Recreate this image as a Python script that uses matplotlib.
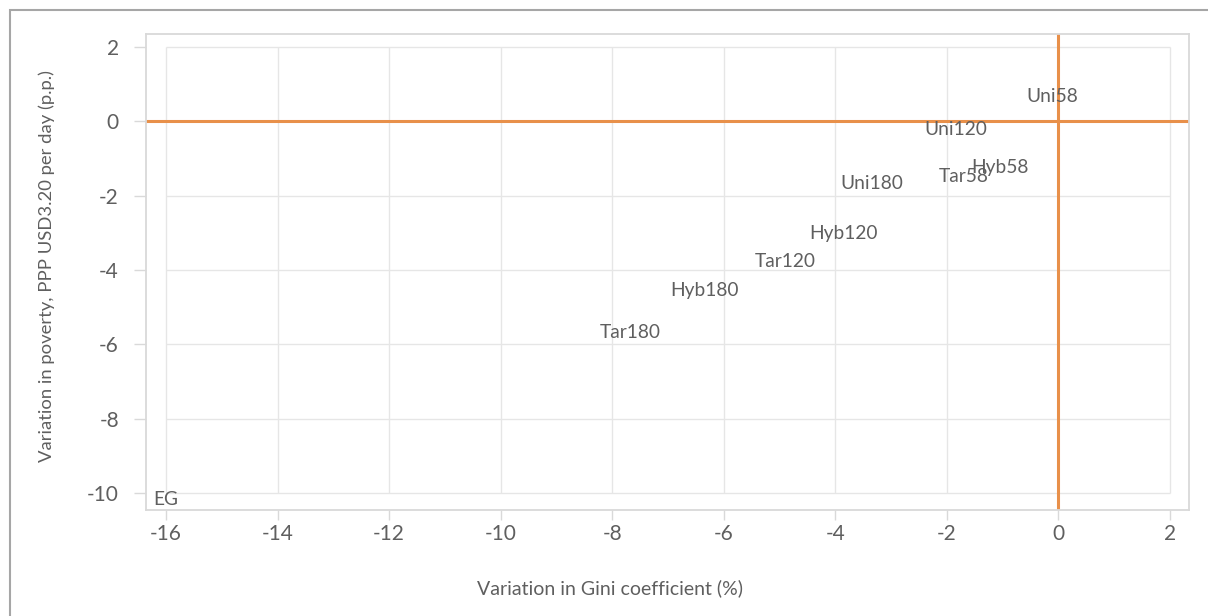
import matplotlib.pyplot as plt
from matplotlib.patches import Rectangle
import numpy as np

# scenario labels and their variation in Gini (%) / poverty (p.p.)
scenarios = ["Uni58", "Uni120", "Hyb58", "Tar58", "Uni180",
             "Hyb120", "Tar120", "Hyb180", "Tar180", "EG"]
gini_var = [-0.12, -1.84, -1.05, -1.70, -3.35, -3.86, -4.89, -6.34, -7.67, -16.01]
poverty_var = [0.66, -0.22, -1.24, -1.48, -1.68, -3.02, -3.77, -4.54, -5.68, -10.18]

x_ticks = np.arange(-16, 3, 2)
y_ticks = np.arange(-10, 3, 2)

TEXT = "#5f5f5f"
ORANGE = "#E8904A"
GRID = "#e6e6e6"
BORDER = "#d9d9d9"

plt.rcParams["font.family"] = ["Lato", "DejaVu Sans"]

fig = plt.figure(figsize=(12.08, 6.16), dpi=100)
ax = fig.add_axes([146 / 1208, 1 - 510 / 616, (1189 - 146) / 1208, (510 - 34) / 616])

ax.set_xlim(-16.36, 2.34)
ax.set_ylim(-10.46, 2.35)

# gridlines only span the tick range, like the original
ax.hlines(y_ticks, x_ticks[0], x_ticks[-1], color=GRID, lw=1, zorder=0)
ax.vlines(x_ticks, y_ticks[0], y_ticks[-1], color=GRID, lw=1, zorder=0)

ax.axhline(0, color=ORANGE, lw=2.2, zorder=2)
ax.axvline(0, color=ORANGE, lw=2.2, zorder=2)

for name, gx, py in zip(scenarios, gini_var, poverty_var):
    ax.text(gx, py, name, ha="center", va="center", fontsize=13.8,
            color=TEXT, zorder=3)

ax.set_xticks(x_ticks)
ax.set_yticks(y_ticks)
ax.set_xticklabels([str(v) for v in x_ticks])
ax.set_yticklabels([str(v) for v in y_ticks])
ax.tick_params(axis="x", length=7, width=1, color=BORDER, colors=TEXT,
               labelsize=15, pad=3)
ax.tick_params(axis="y", length=8.5, width=1, color=BORDER, colors=TEXT,
               labelsize=15, pad=11)
for item in ax.get_xticklabels() + ax.get_yticklabels():
    item.set_color(TEXT)

for sp in ax.spines.values():
    sp.set_color(BORDER)
    sp.set_linewidth(1.3)

fig.text(610 / 1208, 1 - 588 / 616, "Variation in Gini coefficient (%)",
         ha="center", va="center", fontsize=14, color=TEXT)
fig.text(47 / 1208, 1 - 266 / 616,
         "Variation in poverty, PPP USD3.20 per day (p.p.)",
         ha="center", va="center", rotation=90, fontsize=13.3, color=TEXT)

# outer chart frame
fig.patches.append(Rectangle((10 / 1208, -0.1), 1.2, 1 - 10 / 616 + 0.1,
                             transform=fig.transFigure, fill=False,
                             edgecolor="#a6a6a6", lw=1.5, clip_on=False))

fig.savefig("out.png", dpi=100)
